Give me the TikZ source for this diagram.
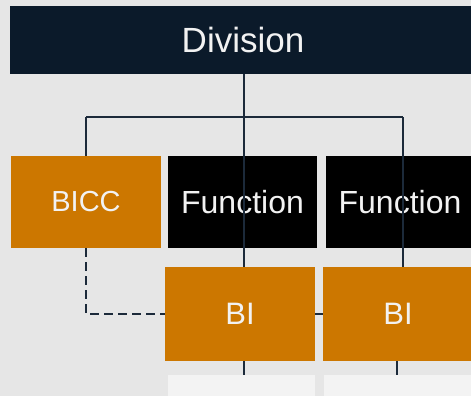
\documentclass[tikz,border=0pt]{standalone}
\usepackage{fontspec}
\setmainfont{Liberation Sans}
\usetikzlibrary{calc}

\definecolor{divnavy}{HTML}{0B1A2A}
\definecolor{biorange}{HTML}{CC7700}
\definecolor{linknavy}{HTML}{1C2A3A}
\definecolor{bggray}{HTML}{E6E6E6}
\definecolor{lowgray}{HTML}{F3F3F3}

\begin{document}
\begin{tikzpicture}[
    x=1pt, y=-1pt,
    box/.style={rectangle, inner sep=0pt, text=white!95!black, align=center},
    head/.style={box, fill=divnavy, minimum width=466pt, minimum height=68pt, font=\fontsize{35}{40}\selectfont},
    func/.style={box, fill=black, minimum width=149pt, minimum height=92pt, font=\fontsize{32}{36}\selectfont},
    orange/.style={box, fill=biorange, minimum width=150pt, minimum height=92pt},
    lower/.style={box, fill=lowgray, minimum width=147pt, minimum height=90pt},
    link/.style={draw=linknavy, line width=2.5pt},
    dashlink/.style={link, dash pattern=on 9pt off 5pt}
  ]

  % Hintergrund
  \useasboundingbox (0,0) rectangle (471,396);
  \clip (0,0) rectangle (471,396);
  \fill[bggray] (0,0) rectangle (471,396);

  % obere Ebene
  \node[head] (div) at (243,40) {Division};

  % mittlere Ebene
  \node[orange, font=\fontsize{29}{34}\selectfont] (bicc) at (86,202) {BICC};
  \node[func] (fun1) at (242.5,202) {Function};
  \node[func] (fun2) at (400,202) {Function};

  % untere Ebene
  \node[lower] (low1) at (241,420) {};
  \node[lower] (low2) at (397,420) {};

  % Verbindungen
  \coordinate (busL) at (86,117);
  \coordinate (busM) at (244,117);
  \coordinate (busR) at (403,117);
  \draw[link] (div.south -| busM) -- (busM);
  \draw[link] (busL) -- (busR);
  \draw[link] (busL) -- (bicc.north);

  \node[orange, font=\fontsize{31}{36}\selectfont, minimum height=94pt] (bi1) at (240,314) {BI};
  \node[orange, font=\fontsize{31}{36}\selectfont, minimum height=94pt] (bi2) at (398,314) {BI};

  \draw[link] (busM) -- (busM |- bi1.north);
  \draw[link] (busR) -- (busR |- bi2.north);
  \draw[link] ($(bi1.south)+(4,0)$) -- ($(low1.north)+(3,0)$);
  \draw[link] ($(bi2.south)+(-1,0)$) -- ($(low2.north)+(0,0)$);

  % gestrichelte Linien
  \draw[dashlink] (bicc.south) |- (bi1.west);
  \draw[dashlink] (bi1.east) -- (bi2.west);

\end{tikzpicture}
\end{document}
